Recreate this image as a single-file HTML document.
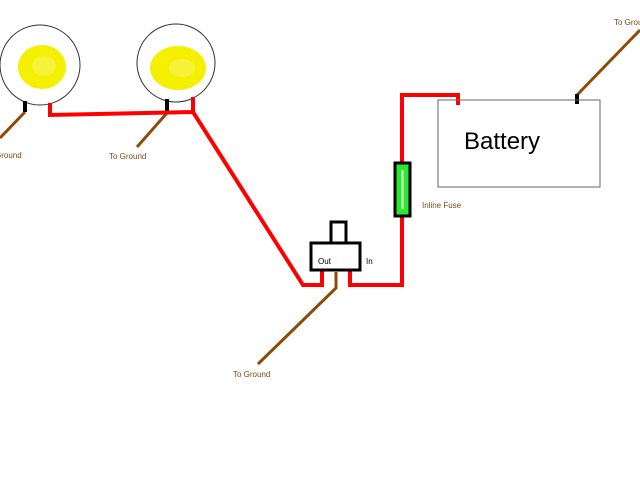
<!DOCTYPE html>
<html><head><meta charset="utf-8"><style>
html,body{margin:0;padding:0;background:#fff;width:640px;height:480px;overflow:hidden}
svg{display:block}
text{font-family:"Liberation Sans",sans-serif}
</style></head><body>
<svg width="640" height="480" viewBox="0 0 640 480" xmlns="http://www.w3.org/2000/svg">
<!-- lamps -->
<circle cx="40" cy="65" r="40" fill="#fff" stroke="#333" stroke-width="1"/>
<ellipse cx="42" cy="67" rx="24" ry="22" fill="#f5f000"/>
<ellipse cx="44" cy="66" rx="12" ry="10" fill="#f8f460" opacity="0.6"/>
<circle cx="176" cy="63" r="39" fill="#fff" stroke="#333" stroke-width="1"/>
<ellipse cx="178" cy="68" rx="28" ry="22" fill="#f5f000"/>
<ellipse cx="182" cy="68" rx="13" ry="9" fill="#f8f460" opacity="0.6"/>
<!-- ground wires -->
<g stroke="#8b4c0a" stroke-width="3" fill="none">
<line x1="25" y1="112" x2="0" y2="138"/>
<line x1="167" y1="113" x2="137" y2="147"/>
<polyline points="336,272 336,288 258,364"/>
<line x1="577" y1="95" x2="640" y2="30"/>
</g>
<!-- black terminals -->
<g stroke="#000" stroke-width="4">
<line x1="25" y1="101" x2="25" y2="112"/>
<line x1="167" y1="99" x2="167" y2="112"/>
<line x1="577" y1="94" x2="577" y2="104"/>
</g>
<!-- red wires -->
<g stroke="#f00" stroke-width="4" fill="none" stroke-linejoin="miter">
<polyline points="50,103 50,115 193,112 193,97"/>
<polyline points="193,112 303,285 322,285 322,270"/>
<polyline points="350,270 350,285 402,285 402,215"/>
<polyline points="402,164 402,95 458,95 458,105"/>
</g>
<!-- fuse -->
<rect x="395" y="163" width="15" height="53" fill="#2ee82e" stroke="#000" stroke-width="3"/>
<line x1="402.5" y1="170" x2="402.5" y2="209" stroke="#d8ffd8" stroke-width="2"/>
<!-- switch -->
<rect x="331" y="222" width="15" height="21" fill="#fff" stroke="#000" stroke-width="3"/>
<rect x="311" y="243" width="49" height="27" fill="#fff" stroke="#000" stroke-width="3"/>
<!-- battery -->
<rect x="438" y="100" width="162" height="87" fill="none" stroke="#666" stroke-width="1"/>
<!-- text -->
<text x="464" y="149" font-size="24" fill="#000">Battery</text>
<g font-size="8" fill="#7a4a1a">
<text x="-5" y="158">Ground</text>
<text x="109" y="159">To Ground</text>
<text x="233" y="377">To Ground</text>
<text x="614" y="25">To Ground</text>
<text x="422" y="208">Inline Fuse</text>
</g>
<text x="318" y="264" font-size="8" fill="#000">Out</text>
<text x="366" y="264" font-size="8" fill="#000">In</text>
</svg>
</body></html>
